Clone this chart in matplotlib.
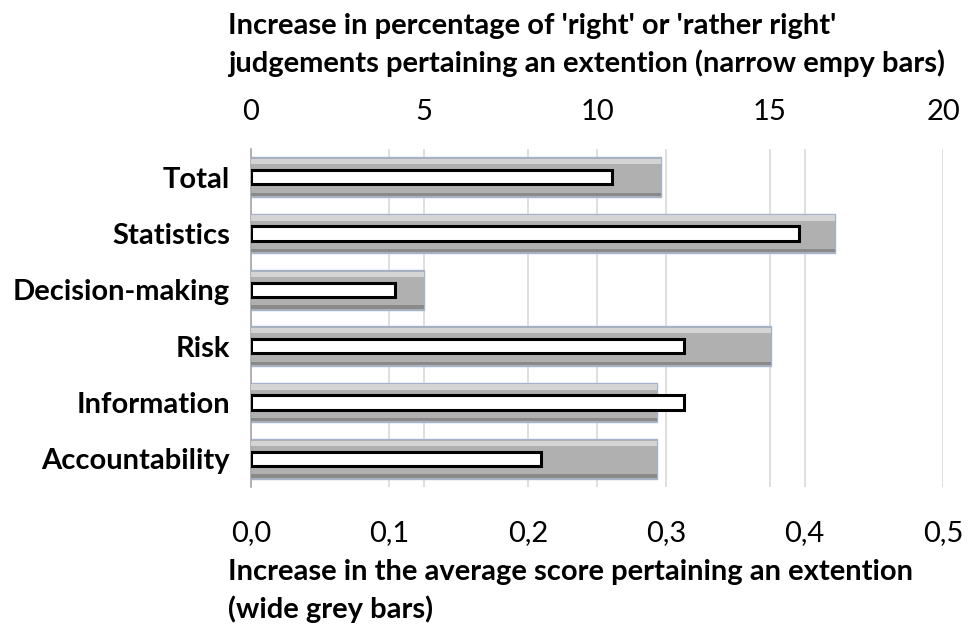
import numpy as np
import matplotlib
matplotlib.use('Agg')
import matplotlib.pyplot as plt

categories = ['Total', 'Statistics', 'Decision-making', 'Risk', 'Information', 'Accountability']
avg_score = [0.296, 0.422, 0.125, 0.376, 0.293, 0.293]      # wide grey bars, bottom axis
pct_right = [10.43, 15.84, 4.17, 12.52, 12.52, 8.38]        # narrow empty bars, top axis

bottom_ticks = [0.0, 0.1, 0.2, 0.3, 0.4, 0.5]
bottom_labels = ['0,0', '0,1', '0,2', '0,3', '0,4', '0,5']
top_ticks = [0, 5, 10, 15, 20]
top_labels = ['0', '5', '10', '15', '20']

top_title = "Increase in percentage of 'right' or 'rather right'\njudgements pertaining an extention (narrow empy bars)"
bottom_title = "Increase in the average score pertaining an extention\n(wide grey bars)"

plt.rcParams['font.family'] = ['Lato', 'DejaVu Sans']
FS = 21

fig = plt.figure(figsize=(9.73, 6.30), dpi=100)
ax = fig.add_axes([251 / 973, 1 - 487 / 630, 692 / 973, 338 / 630])

y = np.arange(len(categories))
h = 0.71

# wide grey bars with a rough bevel look
ax.barh(y, avg_score, height=h, color='#b0b0b0', edgecolor='#a3b3cc', linewidth=1.0, zorder=2)
ax.barh(y - h / 2 + 0.08, avg_score, height=0.1, color='#d4d4d4', linewidth=0, zorder=3)
ax.barh(y + h / 2 - 0.05, avg_score, height=0.06, color='#8a8a8a', linewidth=0, zorder=3)

ax.set_xlim(0, 0.5)
ax.set_ylim(len(categories) - 0.5, -0.5)
ax.set_yticks(y)
ax.set_yticklabels(categories, fontsize=FS, fontweight='bold')
ax.set_xticks(bottom_ticks)
ax.set_xticklabels(bottom_labels, fontsize=FS)
# top-axis gridlines drawn on the bottom axes so they stay behind the bars
ax.set_xticks([t * 0.5 / 20 for t in top_ticks], minor=True)
ax.tick_params(axis='both', which='both', length=0)
ax.tick_params(axis='x', pad=24)
ax.tick_params(axis='y', pad=15)
ax.grid(True, axis='x', which='both', color='#d9d9d9', linewidth=1.2, zorder=0)
ax.set_axisbelow(True)
for s in ['top', 'right', 'bottom']:
    ax.spines[s].set_visible(False)
ax.spines['left'].set_color('#a6a6a6')
ax.spines['left'].set_linewidth(1.2)

ax.set_xlabel(bottom_title, fontsize=FS, fontweight='bold', ha='left', linespacing=1.45)
ax.xaxis.set_label_coords(-0.033, -0.214)
ax.xaxis.label.set_va('top')

ax2 = ax.twiny()
ax2.barh(y, pct_right, height=0.25, color='white', edgecolor='black', linewidth=2.2, zorder=4)
ax2.set_xlim(0, 20)
ax2.set_xticks(top_ticks)
ax2.set_xticklabels(top_labels, fontsize=FS)
ax2.tick_params(axis='x', length=0, pad=17)
for s in ['top', 'right', 'bottom', 'left']:
    ax2.spines[s].set_visible(False)
ax2.set_xlabel(top_title, fontsize=FS, fontweight='bold', ha='left', linespacing=1.45)
ax2.xaxis.set_label_coords(-0.033, 1.403)
ax2.xaxis.label.set_va('top')

fig.savefig('out.png', dpi=100)
